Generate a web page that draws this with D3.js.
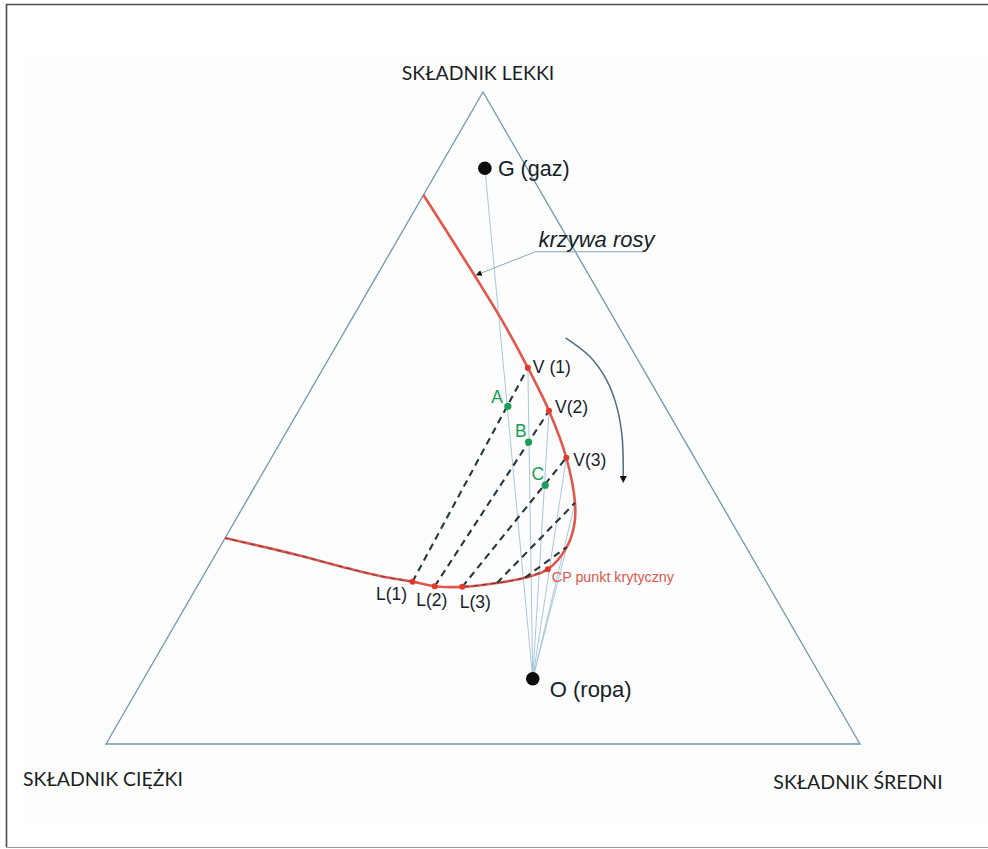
<!DOCTYPE html>
<html><head><meta charset="utf-8">
<script src="https://cdn.jsdelivr.net/npm/d3@7"></script>
<style>body{margin:0;background:#fff;} svg{display:block;}</style>
</head><body>
<script>
// ---------- DATA (ternary compositions: [light fraction, medium fraction]; heavy = 1 - light - medium)
const vertexLabels = ["SKŁADNIK LEKKI", "SKŁADNIK CIĘŻKI", "SKŁADNIK ŚREDNI"];
const vertices = [[1, 0], [0, 0], [0, 1]]; // light, heavy, medium corners
const gasPoint = [0.883, 0.061];
const gasLabel = "G (gaz)";
const oilPoint = [0.100, 0.516];
const oilLabel = "O (ropa)";
// dew curve (upper branch) from the light-heavy edge down to the critical point
const dewCurve = [[0.842, 0.000], [0.655, 0.195], [0.577, 0.271], [0.511, 0.332], [0.439, 0.391],
                  [0.370, 0.437], [0.336, 0.453], [0.302, 0.460], [0.268, 0.452]];
// bubble curve (lower branch) from the critical point to the light-heavy edge
const bubbleCurve = [[0.268, 0.452], [0.255, 0.428], [0.247, 0.395], [0.241, 0.352], [0.242, 0.315],
                     [0.249, 0.282], [0.257, 0.238], [0.269, 0.188], [0.289, 0.112], [0.316, 0.000]];
const vaporPoints = [[0.577, 0.271], [0.511, 0.332], [0.439, 0.391], [0.370, 0.437], [0.302, 0.460]];
const liquidPoints = [[0.249, 0.282], [0.242, 0.315], [0.241, 0.352], [0.247, 0.395], [0.255, 0.428]];
const vaporLabels = ["V (1)", "V(2)", "V(3)"];
const liquidLabels = ["L(1)", "L(2)", "L(3)"];
const mixPoints = [[0.518, 0.274], [0.463, 0.329], [0.397, 0.384]];
const mixLabels = ["A", "B", "C"];
const criticalPoint = [0.268, 0.452];
const criticalLabel = "CP punkt krytyczny";
const dewLabel = "krzywa rosy";
const dewLeader = [[0.755, 0.335], [0.755, 0.192], [0.722, 0.136]];
const processArrow = [[0.623, 0.298], [0.594, 0.345], [0.558, 0.385], [0.517, 0.419], [0.471, 0.449], [0.410, 0.481]];

// ---------- SCALES
const W = 988, H = 849;
const xScale = d3.scaleLinear().domain([0, 1]).range([106, 860]);
const yScale = d3.scaleLinear().domain([0, 1]).range([744, 92]);
const proj = ([l, m]) => [xScale(m + l / 2), yScale(l)];
const px = p => proj(p)[0], py = p => proj(p)[1];

const svg = d3.select("body").append("svg").attr("width", W).attr("height", H);
const defs = svg.append("defs");
defs.append("marker").attr("id", "ah").attr("viewBox", "0 0 10 10").attr("refX", 1).attr("refY", 5)
  .attr("markerWidth", 7).attr("markerHeight", 7).attr("markerUnits", "userSpaceOnUse").attr("orient", "auto")
  .append("path").attr("d", "M0,0L10,5L0,10Z").attr("fill", "#111");
defs.append("marker").attr("id", "ah2").attr("viewBox", "0 0 10 10").attr("refX", 1).attr("refY", 5)
  .attr("markerWidth", 7).attr("markerHeight", 6).attr("markerUnits", "userSpaceOnUse").attr("orient", "auto")
  .append("path").attr("d", "M0,0L10,5L0,10Z").attr("fill", "#111");

// background / frame
svg.append("rect").attr("x", 24).attr("y", 57).attr("width", 964).attr("height", 768).attr("fill", "#fdfdfe");
svg.append("path").attr("d", "M988,4.5H6.5V847").attr("fill", "none").attr("stroke", "#4a4a4a").attr("stroke-width", 1.6);
svg.append("path").attr("d", "M6,847.5H988").attr("fill", "none").attr("stroke", "#9a9a9a").attr("stroke-width", 1.2);

const line = d3.line().x(px).y(py);
const smooth = d3.line().x(px).y(py).curve(d3.curveCatmullRom.alpha(0.5));

// triangle
svg.append("path").attr("d", line(vertices) + "Z").attr("fill", "none")
  .attr("stroke", "#6f96b2").attr("stroke-width", 1.3);

// fan lines from oil point
svg.selectAll(".fan").data([gasPoint, ...vaporPoints]).join("path").attr("class", "fan")
  .attr("d", d => line([oilPoint, d])).attr("stroke", "#a9c7db").attr("stroke-width", 1).attr("fill", "none");

// phase envelope
svg.append("path").attr("d", smooth(dewCurve.concat(bubbleCurve.slice(1)))).attr("fill", "none")
  .attr("stroke", "#e2574c").attr("stroke-width", 2.6);
// dark dashes along the bubble curve
svg.append("path").attr("d", smooth(bubbleCurve.slice(0, 4))).attr("fill", "none")
  .attr("stroke", "#2b3b45").attr("stroke-width", 1.2).attr("stroke-dasharray", "5,4").attr("opacity", 0.75);
svg.append("path").attr("d", smooth(bubbleCurve.slice(5))).attr("fill", "none")
  .attr("stroke", "#2b3b45").attr("stroke-width", 1.1).attr("stroke-dasharray", "5,4").attr("opacity", 0.6);

// tie lines
svg.selectAll(".tie").data(liquidPoints).join("path").attr("class", "tie")
  .attr("d", (d, i) => line([d, vaporPoints[i]])).attr("fill", "none")
  .attr("stroke", "#27363f").attr("stroke-width", 2.1).attr("stroke-dasharray", "7,5");

// process arrow
svg.append("path").attr("d", smooth(processArrow)).attr("fill", "none")
  .attr("stroke", "#4f6d82").attr("stroke-width", 1.5).attr("marker-end", "url(#ah)");

// dew-curve leader
svg.append("path").attr("d", line(dewLeader)).attr("fill", "none")
  .attr("stroke", "#85a8bf").attr("stroke-width", 1).attr("marker-end", "url(#ah2)");

// points
const redPts = vaporPoints.slice(0, 3).concat(liquidPoints.slice(0, 3), [criticalPoint]);
svg.selectAll(".rp").data(redPts).join("circle").attr("class", "rp")
  .attr("cx", px).attr("cy", py).attr("r", 3).attr("fill", "#e3392b");
svg.selectAll(".gp").data(mixPoints).join("circle").attr("class", "gp")
  .attr("cx", px).attr("cy", py).attr("r", 3.6).attr("fill", "#17a055");
svg.selectAll(".bp").data([gasPoint, oilPoint]).join("circle").attr("class", "bp")
  .attr("cx", px).attr("cy", py).attr("r", 6.8).attr("fill", "#0c0c0c");

// labels
const lab = "'Liberation Sans', Arial, sans-serif";
const txt = "#172228";
svg.append("text").attr("x", px(gasPoint) + 13).attr("y", py(gasPoint) + 8).text(gasLabel)
  .attr("font-family", lab).attr("font-size", 21.5).attr("fill", txt);
svg.append("text").attr("x", px(oilPoint) + 17).attr("y", py(oilPoint) + 18).text(oilLabel)
  .attr("font-family", lab).attr("font-size", 22).attr("fill", txt);

const vOff = [[5, 5], [6, 2], [7, 8]];
svg.selectAll(".vl").data(vaporLabels).join("text").attr("class", "vl")
  .attr("x", (d, i) => px(vaporPoints[i]) + vOff[i][0]).attr("y", (d, i) => py(vaporPoints[i]) + vOff[i][1])
  .text(d => d).attr("font-family", lab).attr("font-size", 17.5).attr("fill", txt);
const lOff = [[-21, 18], [-3, 20], [13, 21]];
svg.selectAll(".ll").data(liquidLabels).join("text").attr("class", "ll")
  .attr("x", (d, i) => px(liquidPoints[i]) + lOff[i][0]).attr("y", (d, i) => py(liquidPoints[i]) + lOff[i][1])
  .attr("text-anchor", "middle").text(d => d).attr("font-family", lab).attr("font-size", 17.5).attr("fill", txt);
const mOff = [[-5, -3], [-2, -5], [-1, -5]];
svg.selectAll(".ml").data(mixLabels).join("text").attr("class", "ml")
  .attr("x", (d, i) => px(mixPoints[i]) + mOff[i][0]).attr("y", (d, i) => py(mixPoints[i]) + mOff[i][1])
  .attr("text-anchor", "end").text(d => d).attr("font-family", lab).attr("font-size", 17.5).attr("fill", "#17a055");
svg.append("text").attr("x", px(criticalPoint) + 4).attr("y", py(criticalPoint) + 13).text(criticalLabel)
  .attr("font-family", lab).attr("font-size", 14.3).attr("fill", "#e0564c");
svg.append("text").attr("x", px(dewLeader[1]) + 3).attr("y", py(dewLeader[1]) - 5).text(dewLabel)
  .attr("font-family", lab).attr("font-size", 22).attr("font-style", "italic").attr("fill", txt);

// vertex labels
const vf = "Lato, 'Open Sans', sans-serif";
const vOffs = [[-5, -12], [-3, 42], [-2, 45]];
svg.selectAll(".vx").data(vertexLabels).join("text").attr("class", "vx")
  .attr("x", (d, i) => px(vertices[i]) + vOffs[i][0]).attr("y", (d, i) => py(vertices[i]) + vOffs[i][1])
  .attr("text-anchor", "middle").text(d => d).attr("font-family", vf).attr("font-size", 19.5).attr("fill", "#1c1f22");
</script>
</body></html>
